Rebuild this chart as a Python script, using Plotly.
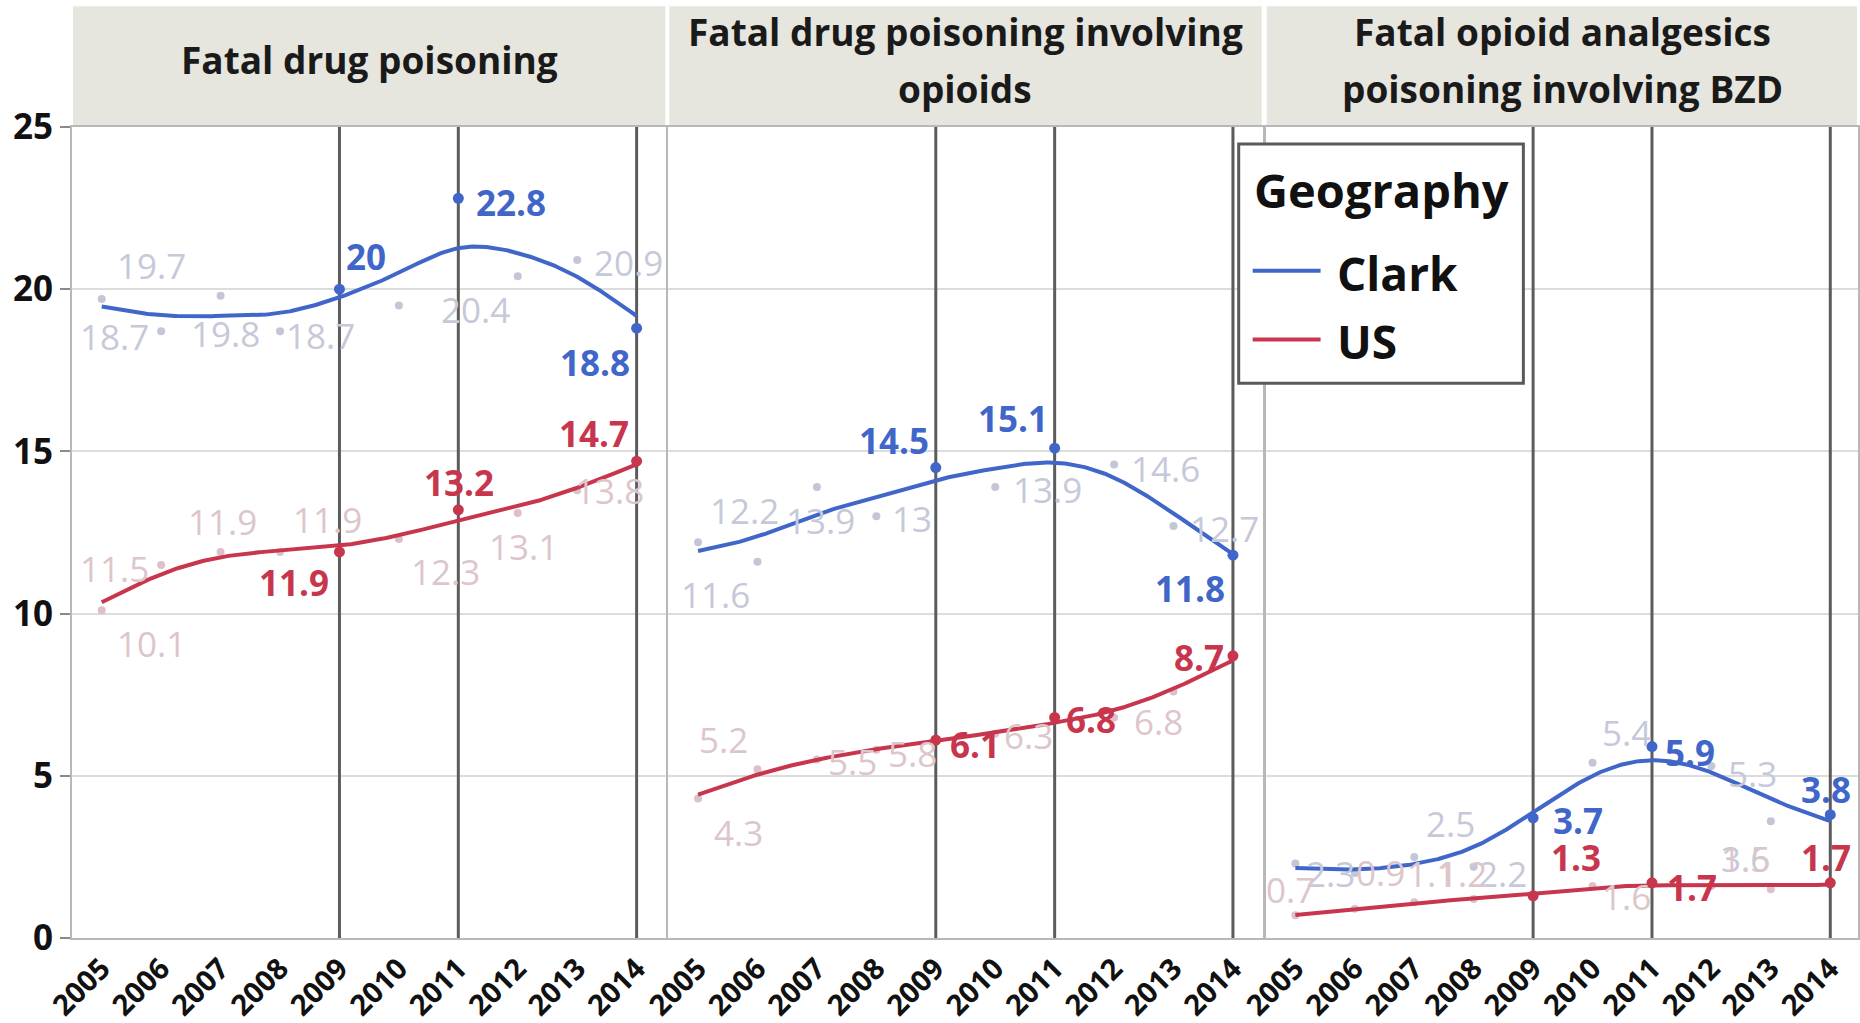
import numpy as np
import plotly.graph_objects as go

# ---------------------------------------------------------------- data
years = [2005, 2006, 2007, 2008, 2009, 2010, 2011, 2012, 2013, 2014]
highlight_years = [2009, 2011, 2014]
y_ticks = [0, 5, 10, 15, 20, 25]

panel_titles = [
    ["Fatal drug poisoning"],
    ["Fatal drug poisoning involving", "opioids"],
    ["Fatal opioid analgesics", "poisoning involving BZD"],
]

geographies = ["Clark", "US"]

# age-adjusted death rates per 100,000
drug_clark = [19.7, 18.7, 19.8, 18.7, 20.0, 19.5, 22.8, 20.4, 20.9, 18.8]
drug_us = [10.1, 11.5, 11.9, 11.9, 11.9, 12.3, 13.2, 13.1, 13.8, 14.7]
opioid_clark = [12.2, 11.6, 13.9, 13.0, 14.5, 13.9, 15.1, 14.6, 12.7, 11.8]
opioid_us = [4.3, 5.2, 5.5, 5.8, 6.1, 6.3, 6.8, 6.8, 7.6, 8.7]
bzd_clark = [2.3, 2.0, 2.5, 2.2, 3.7, 5.4, 5.9, 5.3, 3.6, 3.8]
bzd_us = [0.7, 0.9, 1.1, 1.2, 1.3, 1.6, 1.7, 1.6, 1.5, 1.7]

panel_series = [
    {"Clark": drug_clark, "US": drug_us},
    {"Clark": opioid_clark, "US": opioid_us},
    {"Clark": bzd_clark, "US": bzd_us},
]

# ---------------------------------------------------------------- styling
W, H = 1860, 1023
PLOT_L, PLOT_R = 72, 1860
PLOT_T, PLOT_B = 127, 940
panel_left_px = [72, 669, 1267]
YEAR_PX = 59.5

FONT = "Open Sans"
colors = {"Clark": "#3f66c8", "US": "#c8364e"}
faded_text = {"Clark": "#c6c9d9", "US": "#ddc6ca"}
faded_dot = {"Clark": "#c2c6d6", "US": "#dcc2c8"}
header_fill = "#e6e6de"

# label offsets (dx right, dy down, in px) per year; None = label hidden
label_offsets = [
    {
        "Clark": [(50, -33), (-47, 5), (5, 38), (40, 4), (27, -33), None,
                  (53, 4), (-42, 33), (51, 2), (-42, 34)],
        "US": [(50, 33), (-47, 4), (2, -30), (47, -32), (-45, 31), (47, 33),
               (1, -27), (6, 33), (32, 0), (-43, -28)],
    },
    {
        "Clark": [(46, -32), (-42, 33), (4, 33), (36, 2), (-42, -27), (52, 2),
                  (-42, -30), (51, 4), (51, 2), (-43, 33)],
        "US": [(40, 34), (-34, -30), (36, 2), (36, 4), (39, 4), (33, 2),
               (36, 2), (44, 4), None, (-34, 2)],
    },
    {
        "Clark": [(35, 10), None, (36, -33), (29, 7), (45, 3), (34, -30),
                  (38, 6), (41, 7), (-25, 37), (-4, -25)],
        "US": [(-5, -26), (26, -36), (17, -29), (-11, -26), (43, -38), (34, 10),
               (40, 5), None, (-25, -31), (-4, -25)],
    },
]

SMOOTH_LAMBDA = 0.6


def px_x(px):
    return (px - PLOT_L) / (PLOT_R - PLOT_L)


def px_y(py):
    return (PLOT_B - py) / (PLOT_B - PLOT_T)


def smoothing_spline(x, y, lam, xs):
    """Natural cubic smoothing spline (Reinsch form)."""
    x = np.asarray(x, float)
    y = np.asarray(y, float)
    n = len(x)
    h = np.diff(x)
    Q = np.zeros((n, n - 2))
    R = np.zeros((n - 2, n - 2))
    for j in range(1, n - 1):
        Q[j - 1, j - 1] = 1 / h[j - 1]
        Q[j, j - 1] = -1 / h[j - 1] - 1 / h[j]
        Q[j + 1, j - 1] = 1 / h[j]
        R[j - 1, j - 1] = (h[j - 1] + h[j]) / 3
        if j < n - 2:
            R[j - 1, j] = R[j, j - 1] = h[j] / 6
    K = Q @ np.linalg.solve(R, Q.T)
    g = np.linalg.solve(np.eye(n) + lam * K, y)
    gam = np.zeros(n)
    gam[1:-1] = np.linalg.solve(R, Q.T @ g)
    idx = np.clip(np.searchsorted(x, xs, side="right") - 1, 0, n - 2)
    xl, xr = x[idx], x[idx + 1]
    hh = xr - xl
    a, b = xs - xl, xr - xs
    return (a * g[idx + 1] + b * g[idx]) / hh - a * b / 6 * (
        (1 + a / hh) * gam[idx + 1] + (1 + b / hh) * gam[idx]
    )


fig = go.Figure()
annotations = []
shapes = []
grid_x = np.linspace(years[0], years[-1], 300)

for p, series in enumerate(panel_series):
    xa = "x" if p == 0 else f"x{p + 1}"
    ya = "y" if p == 0 else f"y{p + 1}"

    # reference lines at the highlighted years (drawn as thin line traces
    # spanning the full value range so they sit under the data)
    for yr in highlight_years:
        fig.add_trace(go.Scatter(
            x=[yr, yr], y=[-0.3, 25], mode="lines", xaxis=xa, yaxis=ya,
            line=dict(color="#5c5c5c", width=3), cliponaxis=False,
            showlegend=False, hoverinfo="skip",
        ))

    # faded (non-highlighted) points
    for geo in geographies:
        vals = series[geo]
        fx = [yr for yr in years if yr not in highlight_years]
        fy = [v for yr, v in zip(years, vals) if yr not in highlight_years]
        fig.add_trace(go.Scatter(
            x=fx, y=fy, mode="markers", xaxis=xa, yaxis=ya,
            marker=dict(size=8, color=faded_dot[geo]),
            showlegend=False, hoverinfo="skip",
        ))

    # smoother curves
    for geo in geographies:
        fig.add_trace(go.Scatter(
            x=grid_x, y=smoothing_spline(years, series[geo], SMOOTH_LAMBDA, grid_x),
            mode="lines", xaxis=xa, yaxis=ya, name=geo,
            line=dict(color=colors[geo], width=4),
            showlegend=False, hoverinfo="skip",
        ))

    # highlighted points
    for geo in geographies:
        vals = series[geo]
        hx = [yr for yr in years if yr in highlight_years]
        hy = [v for yr, v in zip(years, vals) if yr in highlight_years]
        fig.add_trace(go.Scatter(
            x=hx, y=hy, mode="markers", xaxis=xa, yaxis=ya,
            marker=dict(size=11, color=colors[geo]),
            showlegend=False, hoverinfo="skip",
        ))

    # value labels
    for geo in geographies:
        for yr, v, off in zip(years, series[geo], label_offsets[p][geo]):
            if off is None:
                continue
            hl = yr in highlight_years
            annotations.append(dict(
                x=yr, y=v, xref=xa, yref=ya, text=f"{v:g}", showarrow=False,
                xshift=off[0], yshift=-off[1],
                font=dict(family=FONT, size=35,
                          color=colors[geo] if hl else faded_text[geo],
                          weight="bold" if hl else "normal"),
            ))

    # panel header strip
    left = panel_left_px[p]
    right = min(left + 10 * YEAR_PX, PLOT_R)
    shapes.append(dict(
        type="rect", xref="paper", yref="paper",
        x0=px_x(left + 1), x1=px_x(right - 1), y0=px_y(125), y1=px_y(6),
        fillcolor=header_fill, line=dict(width=0), layer="below",
    ))
    lines = panel_titles[p]
    centers = [59] if len(lines) == 1 else [31, 88]
    for text, cy in zip(lines, centers):
        annotations.append(dict(
            x=px_x(left + 5 * YEAR_PX), y=px_y(cy), xref="paper", yref="paper",
            text=text, showarrow=False, xanchor="center", yanchor="middle",
            font=dict(family=FONT, size=37, color="#1a1a1a", weight="bold"),
        ))

# ---------------------------------------------------------------- axes
layout_axes = {}
for p in range(3):
    left = panel_left_px[p]
    right_px = left + 10 * YEAR_PX
    x_end = 2014.5 if right_px <= PLOT_R else 2004.5 + (PLOT_R - left) / YEAR_PX
    dom = [px_x(left), min(1.0, px_x(right_px))]
    xkey = "xaxis" if p == 0 else f"xaxis{p + 1}"
    ykey = "yaxis" if p == 0 else f"yaxis{p + 1}"
    layout_axes[xkey] = dict(
        domain=dom, range=[2004.5, x_end], anchor="y" if p == 0 else f"y{p + 1}",
        tickvals=years, ticktext=[str(y) for y in years], tickangle=-45,
        tickfont=dict(family=FONT, size=29, color="#111111", weight="bold"),
        showgrid=False, zeroline=False, ticks="",
        showline=True, mirror=True, linecolor="#b8b8b8", linewidth=2,
    )
    layout_axes[ykey] = dict(
        range=[0, 25], tickvals=y_ticks, anchor="x" if p == 0 else f"x{p + 1}",
        showgrid=True, gridcolor="#dcdcdc", gridwidth=2, zeroline=False,
        showline=True, mirror=True, linecolor="#b8b8b8", linewidth=2,
        showticklabels=(p == 0), ticks="outside" if p == 0 else "",
        ticklen=10, tickwidth=2, tickcolor="#8a8a8a",
        tickfont=dict(family=FONT, size=35, color="#111111", weight="bold"),
    )
    if p > 0:
        layout_axes[ykey]["matches"] = "y"

# ---------------------------------------------------------------- legend box
LEG_L, LEG_R, LEG_T, LEG_B = 1240, 1525, 144, 384
shapes.append(dict(
    type="rect", xref="paper", yref="paper",
    x0=px_x(LEG_L), x1=px_x(LEG_R), y0=px_y(LEG_B), y1=px_y(LEG_T),
    fillcolor="white", line=dict(color="#5a5a5a", width=3), layer="above",
))
annotations.append(dict(
    x=px_x(1253), y=px_y(190), xref="paper", yref="paper", text="Geography",
    showarrow=False, xanchor="left", yanchor="middle",
    font=dict(family=FONT, size=47, color="#111111", weight="bold"),
))
for geo, cy in zip(geographies, [271, 340]):
    shapes.append(dict(
        type="line", xref="paper", yref="paper", layer="above",
        x0=px_x(1254), x1=px_x(1322), y0=px_y(cy), y1=px_y(cy),
        line=dict(color=colors[geo], width=4),
    ))
    annotations.append(dict(
        x=px_x(1336), y=px_y(cy + 2), xref="paper", yref="paper", text=geo,
        showarrow=False, xanchor="left", yanchor="middle",
        font=dict(family=FONT, size=46, color="#111111", weight="bold"),
    ))

fig.update_layout(
    width=W, height=H,
    margin=dict(l=PLOT_L, r=W - PLOT_R, t=PLOT_T, b=H - PLOT_B),
    paper_bgcolor="white", plot_bgcolor="rgba(0,0,0,0)",
    showlegend=False,
    annotations=annotations, shapes=shapes,
    **layout_axes,
)

fig.write_html("out.html")
